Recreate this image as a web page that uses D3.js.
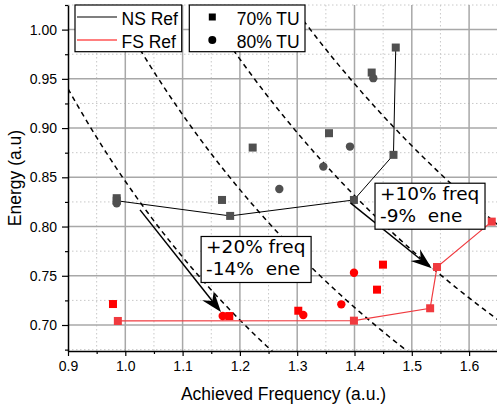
<!DOCTYPE html>
<html>
<head>
<meta charset="utf-8">
<script src="https://cdn.jsdelivr.net/npm/d3@7"></script>
<style>
  body { margin: 0; background: #fff; }
  svg { display: block; font-family: "Liberation Sans", Arial, sans-serif; }
</style>
</head>
<body>
<svg id="chart" width="497" height="411"></svg>
<script>
// reference lines (line + own markers)
const nsRefFreq = [0.985, 1.183, 1.399, 1.468, 1.472];
const nsRefEnergy = [0.8262, 0.8108, 0.827, 0.8728, 0.9818];
const fsRefFreq = [0.987, 1.399, 1.532, 1.544, 1.6395];
const fsRefEnergy = [0.7041, 0.7044, 0.717, 0.7589, 0.805];

// scatter: 70% TU squares, 80% TU circles
const ns70Freq = [0.985, 1.1688, 1.2223, 1.3555, 1.430];
const ns70Energy = [0.8288, 0.827, 0.8802, 0.8948, 0.9564];
const ns80Freq = [0.985, 1.2688, 1.3456, 1.3921, 1.4328];
const ns80Energy = [0.8237, 0.8382, 0.8609, 0.8812, 0.9507];
const fs70Freq = [0.9785, 1.1815, 1.3019, 1.4393, 1.4497];
const fs70Energy = [0.7213, 0.7091, 0.7145, 0.7359, 0.7613];
const fs80Freq = [1.170, 1.3106, 1.377, 1.3991];
const fs80Energy = [0.7091, 0.7102, 0.721, 0.7531];

// dashed iso lines: energy * freq = const
const isoConst = [0.846, 1.005, 1.164, 1.323];

const xTicks = [0.9, 1.0, 1.1, 1.2, 1.3, 1.4, 1.5, 1.6];
const xMinor = [0.95, 1.05, 1.15, 1.25, 1.35, 1.45, 1.55, 1.65];
const yTicks = [0.70, 0.75, 0.80, 0.85, 0.90, 0.95, 1.00];
const yMinor = [0.675, 0.725, 0.775, 0.825, 0.875, 0.925, 0.975, 1.025];

const arrows = [
  { f0: 1.0257, e0: 0.8169, f1: 1.167, e1: 0.7132 },
  { f0: 1.3934, e0: 0.8237, f1: 1.5347, e1: 0.7576 }
];
const notes = [
  { f: 1.1323, e: 0.7899, lines: ["+20% freq", "-14%  ene"] },
  { f: 1.4358, e: 0.8440, lines: ["+10% freq", "-9%  ene"] }
];

const gray = "#505050", red = "#ff0000", refRed = "#f03a3f";

const svg = d3.select("#chart");
const x = d3.scaleLinear().domain([0.9, 1.65]).range([68, 497.75]);
const y = d3.scaleLinear().domain([0.6736, 1.025]).range([351, 5]);
const [x0, x1] = [68, 497];
const [yTop, yBot] = [5, 351];

svg.append("defs").append("clipPath").attr("id", "clip")
  .append("rect").attr("x", x0).attr("y", yTop).attr("width", x1 - x0).attr("height", yBot - yTop);

// grid
const grid = svg.append("g");
grid.selectAll(".mx").data(xMinor).enter().append("line")
  .attr("x1", d => x(d)).attr("x2", d => x(d)).attr("y1", yTop).attr("y2", yBot)
  .attr("stroke", "#c8c8c8").attr("stroke-dasharray", "1.5,2.5");
grid.selectAll(".my").data(yMinor).enter().append("line")
  .attr("y1", d => y(d)).attr("y2", d => y(d)).attr("x1", x0).attr("x2", x1)
  .attr("stroke", "#c8c8c8").attr("stroke-dasharray", "1.5,2.5");
grid.selectAll(".gx").data(xTicks.slice(1)).enter().append("line")
  .attr("x1", d => x(d)).attr("x2", d => x(d)).attr("y1", yTop).attr("y2", yBot)
  .attr("stroke", "#a8a8a8").attr("stroke-width", 1.5);
grid.selectAll(".gy").data(yTicks).enter().append("line")
  .attr("y1", d => y(d)).attr("y2", d => y(d)).attr("x1", x0).attr("x2", x1)
  .attr("stroke", "#a8a8a8").attr("stroke-width", 1.5);

const plot = svg.append("g").attr("clip-path", "url(#clip)");

// iso curves
const fs = d3.range(0.9, 1.66, 0.005);
isoConst.forEach(c => {
  plot.append("path")
    .datum(fs.map(f => [f, c / f]))
    .attr("d", d3.line().x(d => x(d[0])).y(d => y(d[1])))
    .attr("fill", "none").attr("stroke", "#000").attr("stroke-width", 1.5)
    .attr("stroke-dasharray", "5,4");
});

// ref lines
const lineGen = d3.line().x(d => x(d[0])).y(d => y(d[1]));
plot.append("path").datum(d3.zip(nsRefFreq, nsRefEnergy)).attr("d", lineGen)
  .attr("fill", "none").attr("stroke", "#000").attr("stroke-width", 1);
plot.append("path").datum(d3.zip(fsRefFreq, fsRefEnergy)).attr("d", lineGen)
  .attr("fill", "none").attr("stroke", refRed).attr("stroke-width", 1.2);

function squares(fx, ey, color, s) {
  plot.selectAll(null).data(d3.zip(fx, ey)).enter().append("rect")
    .attr("x", d => x(d[0]) - s / 2).attr("y", d => y(d[1]) - s / 2)
    .attr("width", s).attr("height", s).attr("fill", color);
}
function circles(fx, ey, color, r) {
  plot.selectAll(null).data(d3.zip(fx, ey)).enter().append("circle")
    .attr("cx", d => x(d[0])).attr("cy", d => y(d[1])).attr("r", r).attr("fill", color);
}

squares(nsRefFreq, nsRefEnergy, gray, 8);
squares(fsRefFreq, fsRefEnergy, refRed, 8);
squares(ns70Freq, ns70Energy, gray, 8);
circles(ns80Freq, ns80Energy, gray, 4.2);
squares(fs70Freq, fs70Energy, red, 8);
circles(fs80Freq, fs80Energy, red, 4.2);

// arrows
arrows.forEach(a => {
  const ax0 = x(a.f0), ay0 = y(a.e0), ax1 = x(a.f1), ay1 = y(a.e1);
  const ang = Math.atan2(ay1 - ay0, ax1 - ax0);
  const len = 21, half = 7.5, notch = 14;
  const cos = Math.cos(ang), sin = Math.sin(ang);
  const pt = (u, v) => [ax1 + u * cos - v * sin, ay1 + u * sin + v * cos];
  svg.append("line")
    .attr("x1", ax0).attr("y1", ay0)
    .attr("x2", pt(-notch, 0)[0]).attr("y2", pt(-notch, 0)[1])
    .attr("stroke", "#000").attr("stroke-width", 1.5);
  svg.append("path")
    .attr("d", "M" + [pt(0, 0), pt(-len, -half), pt(-notch, 0), pt(-len, half)].join("L") + "Z")
    .attr("fill", "#000");
});

// annotation boxes
notes.forEach(n => {
  const g = svg.append("g").attr("transform", `translate(${x(n.f)},${y(n.e)})`);
  const rect = g.append("rect").attr("fill", "#fff").attr("stroke", "#000").attr("stroke-width", 1.2);
  const t = g.append("text").attr("font-family", "DejaVu Sans, Verdana, sans-serif")
    .attr("font-size", 18.5).attr("fill", "#000");
  n.lines.forEach((s, i) => {
    t.append("tspan").attr("x", 5).attr("y", 17 + i * 22).attr("xml:space", "preserve").text(s);
  });
  const bb = t.node().getBBox();
  rect.attr("x", 0).attr("y", 0).attr("width", 110).attr("height", Math.max(bb.y + bb.height + 3, 40));
});

// axes
svg.append("g").attr("transform", `translate(0,${yBot})`)
  .call(d3.axisBottom(x).tickValues(xTicks).tickFormat(d3.format(".1f")).tickSize(5).tickSizeOuter(0).tickPadding(5));
svg.append("g").attr("transform", `translate(0,${yBot})`)
  .call(d3.axisBottom(x).tickValues(xMinor.filter(d => d < 1.65)).tickFormat("").tickSize(3).tickSizeOuter(0))
  .select(".domain").remove();
svg.append("g").attr("transform", `translate(${x0},0)`)
  .call(d3.axisLeft(y).tickValues(yTicks).tickFormat(d3.format(".2f")).tickSize(6).tickSizeOuter(0).tickPadding(5));
svg.append("g").attr("transform", `translate(${x0},0)`)
  .call(d3.axisLeft(y).tickValues(yMinor).tickFormat("").tickSize(3).tickSizeOuter(0))
  .select(".domain").remove();
svg.selectAll(".domain").attr("stroke-width", 1.5);
svg.selectAll(".tick line").attr("stroke-width", 1.2);
svg.selectAll(".tick text").attr("font-size", 14).attr("fill", "#000")
  .attr("font-family", "Liberation Sans, Arial, sans-serif");

svg.append("text").attr("x", 283.5).attr("y", 400)
  .attr("text-anchor", "middle").attr("font-size", 17.5).text("Achieved Frequency (a.u.)");
svg.append("text").attr("transform", "translate(21,178) rotate(-90)")
  .attr("text-anchor", "middle").attr("font-size", 17.5).text("Energy (a.u)");

// legend
const leg = svg.append("g");
leg.append("rect").attr("x", 75).attr("y", 5).attr("width", 106.7).attr("height", 46.7)
  .attr("fill", "#fff").attr("stroke", "#000").attr("stroke-width", 1.2);
leg.append("rect").attr("x", 189.3).attr("y", 5).attr("width", 115.7).attr("height", 46.7)
  .attr("fill", "#fff").attr("stroke", "#000").attr("stroke-width", 1.2);
const legLines = [{ label: "NS Ref", color: "#000" }, { label: "FS Ref", color: red }];
legLines.forEach((d, i) => {
  const yy = 17 + i * 23;
  leg.append("line").attr("x1", 77).attr("x2", 117).attr("y1", yy).attr("y2", yy)
    .attr("stroke", d.color).attr("stroke-width", 1.2);
  leg.append("text").attr("x", 121.5).attr("y", yy + 7.5).attr("font-size", 17.5).text(d.label);
});
leg.append("rect").attr("x", 208.8).attr("y", 13.5).attr("width", 7).attr("height", 7).attr("fill", "#000");
leg.append("circle").attr("cx", 212.3).attr("cy", 40).attr("r", 4).attr("fill", "#000");
leg.append("text").attr("x", 236.7).attr("y", 24.5).attr("font-size", 17.5).text("70% TU");
leg.append("text").attr("x", 236.7).attr("y", 47.5).attr("font-size", 17.5).text("80% TU");
</script>
</body>
</html>
